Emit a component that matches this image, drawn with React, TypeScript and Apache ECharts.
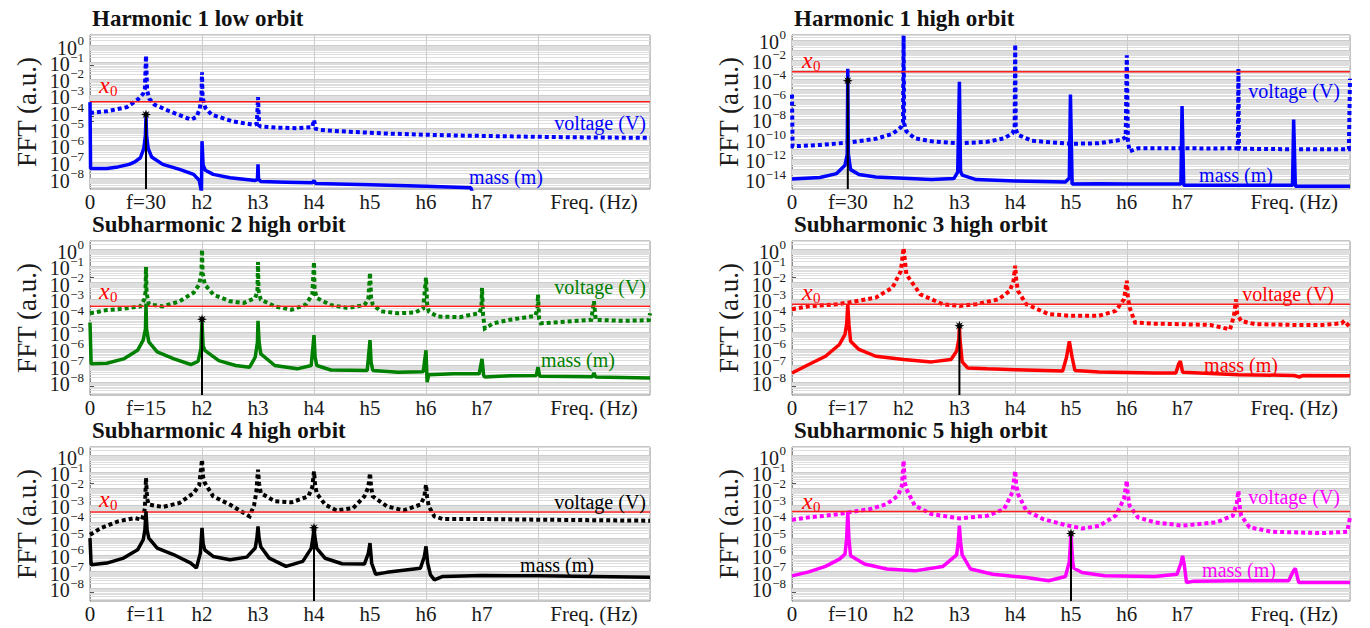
import React, { useEffect, useRef } from 'react';
import * as echarts from 'echarts';

type P = [number, number];

// ---------- data (y values are log10 of FFT amplitude) ----------
const TITLES = [
  'Harmonic 1 low orbit',
  'Harmonic 1 high orbit',
  'Subharmonic 2 high orbit',
  'Subharmonic 3 high orbit',
  'Subharmonic 4 high orbit',
  'Subharmonic 5 high orbit',
];
const FUND_LABELS = ['f=30', 'f=30', 'f=15', 'f=17', 'f=11', 'f=10'];
const X_TICK_LABELS = ['0', '', 'h2', 'h3', 'h4', 'h5', 'h6', 'h7', '', 'Freq. (Hz)', ''];
const COLORS = ['#0000ff', '#0000ff', '#008000', '#ff0000', '#000000', '#ff00ff'];
const X0_LEVEL = [-3.38, -3.2, -3.42, -3.3, -3.4, -3.37];
const STEM_X = [1, 1, 2, 3, 4, 5];
const STEM_TOP = [-4.15, -4.1, -4.2, -4.6, -4.35, -4.7];
const Y_MIN = [-8.63, -15, -8.78, -8.78, -8.78, -8.78];
const Y_MAX = [0.64, 0.5, 0.52, 0.52, 0.52, 0.52];
const Y_LABELS_A = [-8, -7, -6, -5, -4, -3, -2, -1, 0];
const Y_LABELS_B = [-14, -12, -10, -8, -6, -4, -2, 0];

const V1: P[] = [[0,-4.05],[0.3,-3.95],[0.66,-3.7],[0.85,-3.25],[0.95,-2.9],[0.98,-2.6],[1.0,-0.6],[1.02,-2.7],[1.06,-3.2],[1.15,-3.55],[1.42,-3.95],[1.8,-4.45],[1.9,-4.3],[1.96,-3.8],[1.99,-3.1],[2.0,-1.6],[2.01,-3.1],[2.06,-3.75],[2.17,-4.15],[2.55,-4.56],[2.93,-4.77],[2.98,-4.7],[3.0,-3.1],[3.02,-4.8],[3.05,-4.87],[3.31,-4.93],[3.69,-4.97],[3.97,-4.9],[4.0,-4.46],[4.03,-5.0],[4.1,-5.07],[4.45,-5.15],[5.2,-5.28],[5.96,-5.36],[6.7,-5.42],[7.5,-5.46],[8.23,-5.5],[9.0,-5.53],[10,-5.55]];
const M1: P[] = [[0,-3.4],[0.01,-7.4],[0.3,-7.4],[0.5,-7.3],[0.7,-7.15],[0.8,-7.0],[0.9,-6.75],[0.96,-6.2],[0.99,-5.4],[1.0,-4.2],[1.01,-5.4],[1.04,-6.2],[1.1,-6.7],[1.3,-7.15],[1.6,-7.45],[1.85,-7.75],[1.95,-8.1],[1.99,-8.8],[2.0,-5.75],[2.02,-7.2],[2.06,-7.5],[2.2,-7.75],[2.5,-7.95],[2.95,-8.12],[2.99,-8.05],[3.0,-7.15],[3.01,-8.05],[3.05,-8.18],[3.5,-8.22],[3.97,-8.26],[4.0,-8.12],[4.03,-8.3],[5,-8.38],[6,-8.47],[6.8,-8.56],[6.85,-9]];

const V2: P[] = [[0,-5.5],[0.01,-10.7],[0.5,-10.57],[1,-10.33],[1.5,-9.95],[1.8,-9.45],[1.95,-8.8],[1.99,-8.3],[2.0,0.45],[2.01,-8.4],[2.05,-9.2],[2.2,-9.9],[2.5,-10.2],[3,-10.4],[3.5,-10.25],[3.8,-9.9],[3.95,-9.4],[3.99,-8.9],[4.0,-0.45],[4.01,-9.0],[4.05,-9.55],[4.3,-10.15],[5,-10.45],[5.5,-10.4],[5.9,-10.05],[5.98,-9.8],[6.0,-1.55],[6.02,-10.2],[6.05,-11.2],[6.2,-10.9],[7,-10.9],[7.5,-10.92],[7.99,-10.9],[8.0,-2.85],[8.01,-10.95],[9,-11.0],[9.98,-11.0],[10,-3.9]];
const M2: P[] = [[0,-14.0],[0.5,-13.85],[0.8,-13.45],[0.95,-12.6],[0.99,-11.5],[1.0,-2.9],[1.01,-11.5],[1.05,-13.05],[1.2,-13.55],[1.5,-13.8],[2,-13.92],[2.5,-14.05],[2.9,-13.95],[2.97,-13.3],[3.0,-4.2],[3.02,-13.2],[3.05,-13.6],[3.3,-14.05],[4,-14.2],[4.9,-14.3],[4.97,-13.9],[4.99,-5.5],[5.02,-14.5],[5.5,-14.48],[6,-14.5],[6.97,-14.5],[6.99,-6.65],[7.02,-14.62],[8,-14.62],[8.97,-14.62],[8.99,-8.0],[9.02,-14.72],[10,-14.72]];

const V3: P[] = [[0,-3.84],[0.3,-3.65],[0.6,-3.57],[0.9,-3.43],[0.97,-3.0],[0.99,-2.6],[1.0,-1.05],[1.01,-2.6],[1.05,-3.3],[1.3,-3.43],[1.6,-3.12],[1.85,-2.6],[1.95,-2.1],[1.99,-1.4],[2.0,0.0],[2.01,-1.4],[2.05,-2.1],[2.2,-2.71],[2.5,-3.12],[2.75,-3.22],[2.95,-2.92],[2.99,-2.5],[3.0,-0.75],[3.01,-2.5],[3.05,-3.02],[3.3,-3.43],[3.6,-3.63],[3.85,-3.33],[3.97,-2.71],[4.0,-0.75],[4.01,-2.4],[4.05,-2.92],[4.3,-3.35],[4.6,-3.53],[4.9,-3.35],[4.97,-3.0],[5.0,-1.39],[5.02,-2.9],[5.05,-3.33],[5.2,-3.73],[5.5,-3.84],[5.8,-3.8],[5.95,-3.55],[6.0,-1.69],[6.02,-3.3],[6.05,-3.73],[6.2,-4.04],[6.6,-4.08],[6.95,-3.84],[6.99,-3.5],[7.0,-2.31],[7.02,-4.0],[7.05,-4.76],[7.2,-4.45],[7.5,-4.24],[7.95,-4.0],[7.99,-3.6],[8.0,-2.71],[8.02,-4.2],[8.05,-4.45],[8.5,-4.35],[8.95,-4.24],[9.0,-3.12],[9.03,-4.24],[9.5,-4.3],[9.98,-4.26],[10,-3.84]];
const M3: P[] = [[0,-4.4],[0.02,-6.9],[0.3,-6.86],[0.6,-6.6],[0.85,-6.08],[0.95,-5.47],[0.99,-4.8],[1.0,-3.25],[1.01,-4.8],[1.05,-5.57],[1.2,-6.18],[1.5,-6.6],[1.8,-6.94],[1.93,-6.75],[1.98,-6.0],[2.0,-4.3],[2.02,-5.8],[2.05,-6.08],[2.3,-6.7],[2.6,-7.0],[2.85,-7.1],[2.95,-6.5],[2.99,-5.6],[3.0,-4.3],[3.02,-5.6],[3.05,-6.3],[3.3,-7.0],[3.7,-7.2],[3.95,-7.0],[4.0,-5.16],[4.02,-6.5],[4.05,-7.0],[4.3,-7.27],[4.95,-7.3],[5.0,-5.47],[5.02,-6.8],[5.05,-7.3],[5.5,-7.4],[5.95,-7.38],[6.0,-6.08],[6.02,-8.0],[6.05,-7.55],[6.5,-7.5],[6.95,-7.5],[7.0,-6.6],[7.03,-7.6],[7.05,-7.7],[7.5,-7.62],[7.97,-7.6],[8.0,-7.1],[8.03,-7.65],[8.5,-7.66],[8.97,-7.68],[9.0,-7.45],[9.03,-7.7],[10,-7.75]];

const V4: P[] = [[0,-3.6],[0.3,-3.42],[0.8,-3.3],[1.0,-3.2],[1.5,-2.9],[1.8,-2.3],[1.95,-1.3],[2.0,0.1],[2.05,-1.5],[2.3,-2.7],[2.7,-3.3],[3.0,-3.4],[3.3,-3.3],[3.7,-3.0],[3.9,-2.5],[3.97,-1.9],[4.0,-0.97],[4.02,-1.9],[4.05,-2.5],[4.2,-3.3],[4.6,-3.9],[5,-4.0],[5.5,-4.0],[5.8,-3.7],[5.95,-3.0],[6.0,-1.88],[6.02,-2.9],[6.05,-3.5],[6.15,-4.41],[6.5,-4.47],[7,-4.51],[7.5,-4.55],[7.85,-4.82],[7.92,-4.0],[7.96,-3.0],[7.98,-3.9],[8.05,-4.31],[8.3,-4.5],[9,-4.55],[9.5,-4.55],[9.85,-4.45],[9.9,-4.3],[9.95,-4.5],[10,-4.68]];
const M4: P[] = [[0,-7.45],[0.3,-6.94],[0.6,-6.44],[0.85,-5.73],[0.95,-5.12],[0.98,-4.5],[1.0,-3.3],[1.02,-4.5],[1.05,-5.53],[1.2,-6.03],[1.5,-6.44],[2.0,-6.64],[2.5,-6.78],[2.85,-6.64],[2.95,-6.13],[2.99,-5.4],[3.0,-4.62],[3.01,-5.4],[3.05,-6.78],[3.15,-7.15],[3.5,-7.2],[4,-7.25],[4.85,-7.33],[4.92,-6.5],[4.97,-5.53],[5.02,-6.5],[5.07,-7.3],[5.5,-7.39],[6.5,-7.45],[6.88,-7.45],[6.93,-6.9],[6.96,-6.74],[7.0,-7.4],[8,-7.55],[9,-7.6],[9.1,-7.7],[9.15,-7.6],[10,-7.62]];

const V5: P[] = [[0,-4.78],[0.2,-4.37],[0.5,-3.97],[0.8,-3.77],[0.93,-3.87],[0.98,-3.2],[1.0,-1.35],[1.02,-2.6],[1.05,-2.96],[1.3,-3.1],[1.6,-2.86],[1.85,-2.26],[1.95,-1.8],[2.0,-0.24],[2.02,-1.3],[2.05,-1.65],[2.2,-2.46],[2.5,-2.96],[2.75,-3.47],[2.85,-3.67],[2.93,-3.0],[2.97,-2.2],[3.0,-0.85],[3.02,-1.7],[3.05,-2.26],[3.3,-2.76],[3.6,-2.82],[3.9,-2.46],[3.97,-1.9],[4.0,-0.95],[4.02,-1.8],[4.05,-2.3],[4.2,-2.96],[4.4,-3.31],[4.7,-3.17],[4.9,-2.46],[4.97,-1.9],[5.0,-1.05],[5.02,-1.9],[5.05,-2.46],[5.3,-3.06],[5.6,-3.31],[5.9,-2.96],[5.97,-2.5],[6.0,-1.75],[6.02,-2.5],[6.05,-3.06],[6.15,-3.67],[6.3,-3.83],[7,-3.83],[8,-3.87],[10,-3.93]];
const M5: P[] = [[0,-4.98],[0.02,-6.59],[0.3,-6.49],[0.6,-6.19],[0.85,-5.69],[0.95,-5.08],[0.98,-4.5],[1.0,-3.37],[1.02,-4.5],[1.05,-4.98],[1.2,-5.58],[1.5,-5.99],[1.8,-6.49],[1.9,-6.79],[1.97,-5.9],[2.0,-4.37],[2.02,-5.3],[2.05,-5.7],[2.2,-6.09],[2.5,-6.29],[2.8,-6.13],[2.95,-5.58],[2.98,-5.0],[3.0,-4.27],[3.02,-5.0],[3.05,-5.5],[3.2,-6.19],[3.5,-6.69],[3.8,-6.39],[3.95,-5.6],[3.98,-5.0],[4.0,-4.37],[4.02,-5.0],[4.05,-5.6],[4.2,-6.2],[4.5,-6.53],[4.9,-6.55],[4.97,-5.9],[5.0,-5.28],[5.03,-6.5],[5.1,-7.16],[5.3,-7.05],[5.9,-6.8],[5.97,-6.1],[6.0,-5.48],[6.03,-6.5],[6.08,-7.2],[6.15,-7.5],[6.3,-7.3],[7,-7.24],[8,-7.26],[9,-7.3],[10,-7.34]];

const V6: P[] = [[0,-3.87],[0.3,-3.73],[0.6,-3.63],[0.9,-3.5],[1.0,-3.43],[1.4,-3.23],[1.7,-2.92],[1.9,-2.42],[1.97,-1.8],[2.0,-0.3],[2.02,-1.6],[2.05,-2.02],[2.2,-3.02],[2.5,-3.53],[3.0,-3.79],[3.5,-3.63],[3.8,-3.23],[3.95,-2.22],[4.0,-0.91],[4.02,-1.8],[4.05,-2.32],[4.2,-3.33],[4.5,-3.83],[4.9,-4.19],[5.2,-4.4],[5.5,-4.25],[5.8,-3.63],[5.95,-2.6],[6.0,-1.51],[6.02,-2.4],[6.05,-3.02],[6.2,-3.73],[6.5,-4.03],[7,-4.23],[7.6,-4.03],[7.9,-3.63],[7.97,-2.9],[8.0,-2.12],[8.02,-3.0],[8.05,-3.63],[8.2,-4.33],[8.6,-4.6],[9.5,-4.68],[9.95,-4.6],[10,-3.73]];
const M6: P[] = [[0,-7.26],[0.3,-7.02],[0.6,-6.69],[0.85,-6.25],[0.95,-5.95],[0.98,-5.0],[1.0,-3.4],[1.02,-5.0],[1.05,-6.05],[1.3,-6.55],[1.7,-6.85],[2.2,-6.96],[2.7,-6.7],[2.95,-6.0],[2.98,-5.2],[3.0,-4.23],[3.02,-5.2],[3.05,-6.0],[3.2,-6.85],[3.6,-7.16],[4.2,-7.36],[4.6,-7.56],[4.9,-7.3],[4.97,-6.4],[5.0,-4.74],[5.03,-6.4],[5.05,-6.8],[5.2,-7.06],[5.6,-7.26],[6.5,-7.3],[6.9,-7.16],[6.97,-6.5],[7.0,-6.05],[7.03,-6.6],[7.07,-7.66],[7.2,-7.58],[8,-7.56],[8.9,-7.56],[8.98,-7.0],[9.02,-6.81],[9.08,-7.66],[10,-7.66]];

const VOLT = [V1, V2, V3, V4, V5, V6];
const MASS = [M1, M2, M3, M4, M5, M6];

// ---------- layout / style ----------
const COL_LEFT = [90, 792];
const COL_W = [560, 558];
const ROW_TOP = [35, 241, 447];
const PLOT_H = 154;
const SERIF = '"Liberation Serif", "DejaVu Serif", serif';
const STAR = 'path://M0,-10 L2,-4 L7,-7 L4,-2 L10,0 L4,2 L7,7 L2,4 L0,10 L-2,4 L-7,7 L-4,2 L-10,0 L-4,-2 L-7,-7 L-2,-4 Z';

// label placement (pixels)
const X0_POS: P[] = [[99, 85], [802, 60], [99, 291], [802, 292], [99, 499], [802, 501]];
const VOLT_POS: P[] = [[646, 123], [1340, 91], [646, 287], [1334, 294], [646, 502], [1340, 497]];
const MASS_POS: P[] = [[543, 177], [1273, 175], [615, 360], [1278, 365], [594, 565], [1276, 570]];

function logLevels(min: number, max: number) {
  const major: number[] = [];
  const minor: number[] = [];
  for (let n = Math.floor(min); n <= Math.ceil(max); n++) {
    for (let k = 1; k <= 9; k++) {
      const v = n + Math.log10(k);
      if (v > min && v < max) (k === 1 ? major : minor).push(v);
    }
  }
  return { major, minor };
}

function buildOption() {
  const grid: any[] = [];
  const xAxis: any[] = [];
  const yAxis: any[] = [];
  const series: any[] = [];

  for (let i = 0; i < 6; i++) {
    const col = i % 2;
    const row = Math.floor(i / 2);
    const left = COL_LEFT[col];
    const top = ROW_TOP[row];
    const w = COL_W[col];
    const ymin = Y_MIN[i];
    const ymax = Y_MAX[i];
    const color = COLORS[i];
    const lv = logLevels(ymin, ymax);

    grid.push({ left, top, width: w, height: PLOT_H, show: true, borderColor: '#8c8c8c', borderWidth: 1, backgroundColor: '#ffffff' });

    xAxis.push({
      gridIndex: i, type: 'value', min: 0, max: 10, interval: 1,
      axisLine: { show: false },
      axisTick: { show: false },
      splitLine: { show: false },
      axisLabel: {
        margin: 3, fontFamily: SERIF, fontSize: 21, lineHeight: 19, color: '#1a1a1a',
        formatter: (v: number) => (v === 1 ? FUND_LABELS[i] : X_TICK_LABELS[Math.round(v)] || ''),
      },
    });

    yAxis.push({
      gridIndex: i, type: 'value', min: ymin, max: ymax,
      axisLine: { show: true, lineStyle: { color: '#8c8c8c', width: 1 } },
      axisTick: { show: true, inside: true, length: 4, customValues: [...lv.major, ...lv.minor], lineStyle: { color: '#555', width: 1 } },
      splitLine: { show: false },
      axisLabel: { show: false },
      name: 'FFT (a.u.)', nameLocation: 'middle', nameGap: 50,
      nameTextStyle: { fontFamily: SERIF, fontSize: 27, color: '#1a1a1a' },
    });

    // grid lines
    series.push({
      type: 'line', xAxisIndex: i, yAxisIndex: i, data: [], z: 1, silent: true,
      markLine: {
        z: 1, silent: true, symbol: ['none', 'none'], label: { show: false }, animation: false,
        data: [
          ...lv.minor.map((v) => ({ yAxis: v, lineStyle: { color: '#dedede', width: 1, type: 'solid' } })),
          ...lv.major.map((v) => ({ yAxis: v, lineStyle: { color: '#cccccc', width: 1, type: 'solid' } })),
          ...[2, 4, 6, 8].map((v) => ({ xAxis: v, lineStyle: { color: '#cccccc', width: 1, type: 'solid' } })),
        ],
      },
    });

    series.push({
      type: 'line', xAxisIndex: i, yAxisIndex: i, data: VOLT[i], showSymbol: false, z: 3,
      lineStyle: { color, width: 4, type: [4, 3], cap: 'butt', join: 'miter' },
    });
    series.push({
      type: 'line', xAxisIndex: i, yAxisIndex: i, data: [[0, X0_LEVEL[i]], [10, X0_LEVEL[i]]], showSymbol: false, z: 4,
      lineStyle: { color: '#ff2020', width: 1.5 },
    });
    series.push({
      type: 'line', xAxisIndex: i, yAxisIndex: i, data: MASS[i], showSymbol: false, z: 5,
      lineStyle: { color, width: 3.5 },
    });
    series.push({
      type: 'line', xAxisIndex: i, yAxisIndex: i, z: 6, showSymbol: true,
      data: [
        { value: [STEM_X[i], ymin], symbol: 'none' },
        { value: [STEM_X[i], STEM_TOP[i]], symbol: STAR, symbolSize: 10 },
      ],
      itemStyle: { color: '#000' },
      lineStyle: { color: '#000', width: 2 },
    });
  }

  return { animation: false, backgroundColor: '#ffffff', grid, xAxis, yAxis, series };
}

// texts placed after layout; y tick labels positioned through the axis scale
function buildGraphic(chart: echarts.ECharts) {
  const graphic: any[] = [];
  const canvas = document.createElement('canvas');
  const ctx = canvas.getContext('2d') as CanvasRenderingContext2D;
  const SUP_FONT = `13px ${SERIF}`;
  ctx.font = SUP_FONT;

  for (let i = 0; i < 6; i++) {
    const col = i % 2;
    const row = Math.floor(i / 2);
    const left = COL_LEFT[col];
    const top = ROW_TOP[row];
    const color = COLORS[i];
    const labelVals = i === 1 ? Y_LABELS_B : Y_LABELS_A;

    labelVals.forEach((v) => {
      const pt = chart.convertToPixel({ xAxisIndex: i, yAxisIndex: i } as any, [0, v]) as number[];
      const exp = v === 0 ? '0' : '\u2212' + Math.abs(v);
      const ew = ctx.measureText(exp).width;
      const rx = pt[0] - 6;
      graphic.push({
        type: 'text', x: rx - ew - 0.5, y: pt[1] + 2, z: 20, silent: true,
        style: { text: '10', font: `20px ${SERIF}`, fill: '#1a1a1a', align: 'right', verticalAlign: 'middle' },
      });
      graphic.push({
        type: 'text', x: rx, y: pt[1] - 5, z: 21, silent: true,
        style: { text: exp, font: SUP_FONT, fill: '#1a1a1a', align: 'right', verticalAlign: 'middle' },
      });
    });

    graphic.push({
      type: 'text', x: left + 2, y: top - 17, z: 20,
      style: { text: TITLES[i], font: `bold 23px ${SERIF}`, fill: '#111', align: 'left', verticalAlign: 'middle' },
    });
    graphic.push({
      type: 'text', x: X0_POS[i][0], y: X0_POS[i][1], z: 20,
      style: { text: 'x', font: `italic 24px ${SERIF}`, fill: '#ff0000', align: 'left', verticalAlign: 'middle' },
    });
    graphic.push({
      type: 'text', x: X0_POS[i][0] + 11, y: X0_POS[i][1] + 6, z: 20,
      style: { text: '0', font: `15px ${SERIF}`, fill: '#ff0000', align: 'left', verticalAlign: 'middle' },
    });
    graphic.push({
      type: 'text', x: VOLT_POS[i][0], y: VOLT_POS[i][1], z: 20,
      style: { text: 'voltage (V)', font: `20px ${SERIF}`, fill: color, align: 'right', verticalAlign: 'middle' },
    });
    graphic.push({
      type: 'text', x: MASS_POS[i][0], y: MASS_POS[i][1], z: 20,
      style: { text: 'mass (m)', font: `20px ${SERIF}`, fill: color, align: 'right', verticalAlign: 'middle' },
    });
  }
  return graphic;
}

export default function App() {
  const ref = useRef<HTMLDivElement>(null);
  useEffect(() => {
    if (!ref.current) return;
    const chart = echarts.init(ref.current, undefined, { renderer: 'svg' });
    chart.setOption(buildOption() as any);
    chart.setOption({ graphic: buildGraphic(chart) } as any);
    return () => chart.dispose();
  }, []);
  return <div ref={ref} style={{ position: 'absolute', left: 0, top: 0, width: 1370, height: 628 }} />;
}
